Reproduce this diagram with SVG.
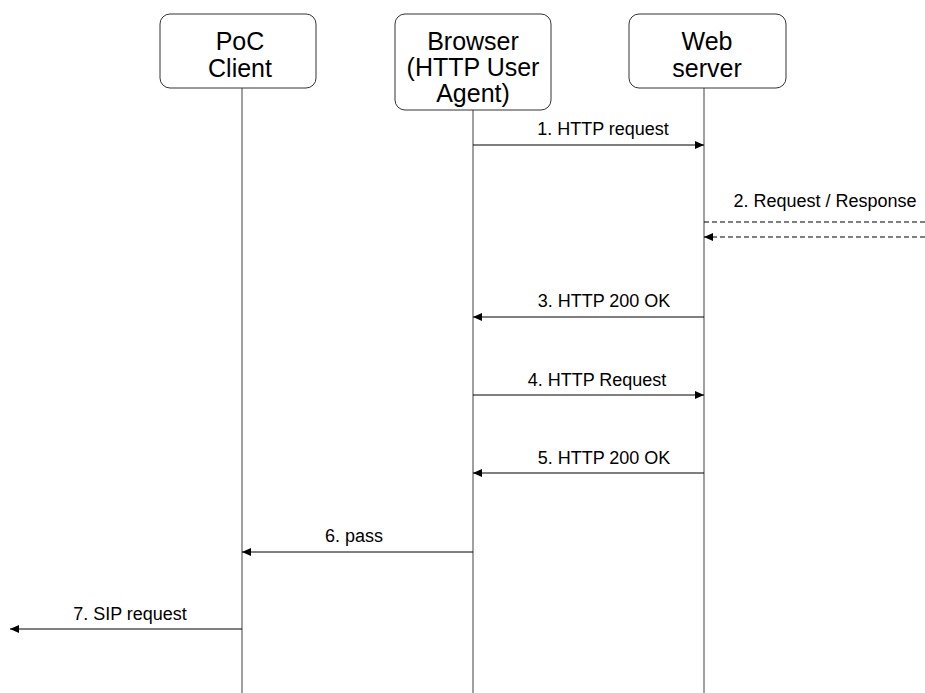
<svg xmlns="http://www.w3.org/2000/svg" width="925" height="693" viewBox="0 0 925 693">
<defs>
<style>
.box{fill:#fff;stroke:#333;stroke-width:1}
.title{font-family:"Liberation Sans",Arial,sans-serif;font-size:25px;fill:#000;text-anchor:middle}
.life{stroke:#808080;stroke-width:1.5;fill:none}
.msg{stroke:#000;stroke-width:1;fill:none;marker-end:url(#ah)}
.dash{stroke:#000;stroke-width:1;fill:none;stroke-dasharray:5,3}
.lbl{font-family:"Liberation Sans",Arial,sans-serif;font-size:18px;fill:#000;text-anchor:middle}
</style>
<marker id="ah" markerWidth="9" markerHeight="8" refX="9" refY="4" orient="auto" markerUnits="userSpaceOnUse">
<path d="M0,0 L9,4 L0,8 Z" fill="#000"/>
</marker>
</defs>
<rect width="925" height="693" fill="#fff"/>
<g id="lifelines">
<line class="life" x1="242" y1="88" x2="242" y2="693"/>
<line class="life" x1="473" y1="110" x2="473" y2="693"/>
<line class="life" x1="704" y1="88" x2="704" y2="693"/>
</g>
<g id="poc-client">
<rect class="box" x="160" y="14" width="156" height="74" rx="10"/>
<text class="title" x="240" y="50">PoC</text>
<text class="title" x="240" y="77">Client</text>
</g>
<g id="browser">
<rect class="box" x="395" y="14" width="156" height="96" rx="10"/>
<text class="title" x="473" y="50">Browser</text>
<text class="title" x="473" y="76">(HTTP User</text>
<text class="title" x="473" y="102">Agent)</text>
</g>
<g id="web-server">
<rect class="box" x="629" y="14" width="157" height="74" rx="10"/>
<text class="title" x="707" y="50">Web</text>
<text class="title" x="707" y="77">server</text>
</g>
<g id="connectors">
<line class="msg" x1="473" y1="145" x2="704" y2="145"/>
<text class="lbl" x="603" y="135">1. HTTP request</text>
<line class="dash" x1="704" y1="222" x2="925" y2="222"/>
<line class="dash" x1="925" y1="237" x2="704" y2="237" marker-end="url(#ah)"/>
<text class="lbl" x="825" y="207">2. Request / Response</text>
<line class="msg" x1="704" y1="317" x2="473" y2="317"/>
<text class="lbl" x="604" y="307">3. HTTP 200 OK</text>
<line class="msg" x1="473" y1="395" x2="704" y2="395"/>
<text class="lbl" x="597" y="386">4. HTTP Request</text>
<line class="msg" x1="704" y1="473" x2="473" y2="473"/>
<text class="lbl" x="604" y="464">5. HTTP 200 OK</text>
<line class="msg" x1="473" y1="552" x2="242" y2="552"/>
<text class="lbl" x="354" y="542">6. pass</text>
<line class="msg" x1="242" y1="629" x2="10" y2="629"/>
<text class="lbl" x="130" y="620">7. SIP request</text>
</g>
</svg>
